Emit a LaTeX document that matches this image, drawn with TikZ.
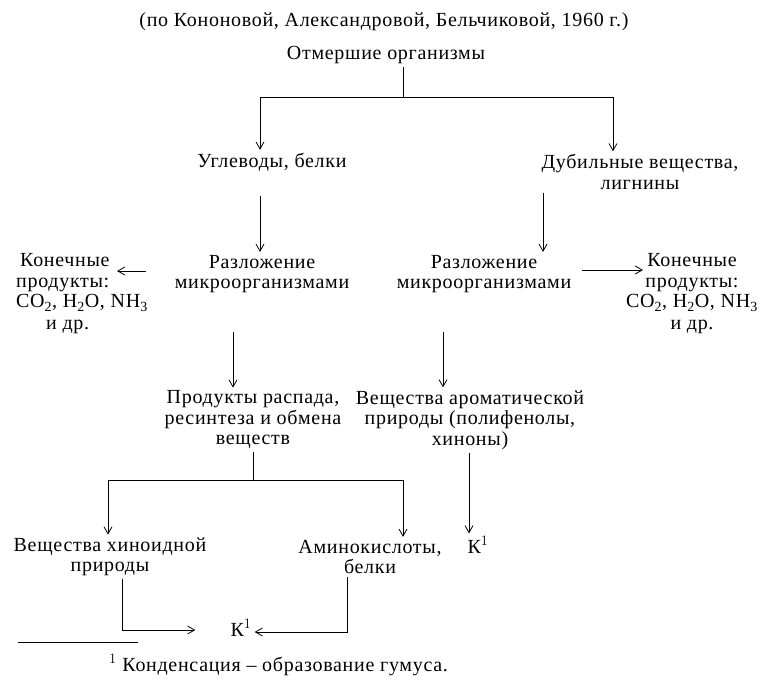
\documentclass[tikz,border=0pt]{standalone}
\usepackage{fontspec}
\setmainfont[LetterSpace=3.5]{Liberation Serif}
\usetikzlibrary{arrows.meta}

\begin{document}
\begin{tikzpicture}[x=1pt, y=-1pt,
		base/.style={align=center, inner sep=3pt, font=\fontsize{20}{20.5}\selectfont},
		link/.style={line width=0.8pt},
		arrow/.style={link, -{Straight Barb[length=7pt, width=8pt]}},
	]
	\useasboundingbox (0,0) rectangle (777,690);

	\node[base] (title) at (384,22) {(по Кононовой, Александровой, Бельчиковой, 1960 г.)};
	\node[base] (dead) at (386,55) {Отмершие организмы};

	\node[base] (carb) at (272,162) {Углеводы, белки};
	\node[base] (tan) at (640,172) {Дубильные вещества,\\лигнины};

	\node[base] (decL) at (262,274) {Разложение\\микроорганизмами};
	\node[base] (decR) at (484,274) {Разложение\\микроорганизмами};
	\node[base, align=left, anchor=west] (endL) at (13,294) {\hspace*{4pt}Конечные\\продукты:\\CO\textsubscript{2}, H\textsubscript{2}O, NH\textsubscript{3}\\[1.5pt]\hspace*{30pt}и др.};
	\node[base] (endR) at (692,294) {Конечные\\продукты:\\CO\textsubscript{2}, H\textsubscript{2}O, NH\textsubscript{3}\\[1.5pt]и др.};

	\node[base] (prod) at (253,420) {Продукты распада,\\ресинтеза и обмена\\веществ};
	\node[base] (arom) at (470,420) {Вещества ароматической\\природы (полифенолы,\\хиноны)};

	\node[base] (quin) at (110,557) {Вещества хиноидной\\природы};
	\node[base] (amino) at (370,557) {Аминокислоты,\\белки};
	\node[base] (kR) at (478,545) {К$^{1}$};
	\node[base] (kB) at (241,628) {К$^{1}$};

	\node[base, anchor=west] (note) at (106,665) {$^{1}$ Конденсация -- образование гумуса.};

	% branch points
	\coordinate (splitA) at (403,97);
	\coordinate (splitL) at (260,97);
	\coordinate (splitR) at (613,97);
	\coordinate (splitB) at (253,480);
	\coordinate (splitBL) at (108,480);
	\coordinate (splitBR) at (403,480);
	\coordinate (tipL) at (117,0);
	\coordinate (tipR) at (643,0);
	\coordinate (bendL) at (122,630);
	\coordinate (bendR) at (347,632);

	\draw[link] (dead.south -| splitA) -- (splitA);
	\draw[link] (splitL) -- (splitR);
	\draw[arrow] (splitL) -- (carb.north -| splitL);
	\draw[arrow] (splitR) -- (tan.north -| splitR);

	\draw[arrow, shorten <=22pt] (carb.south -| splitL) -- (decL.north -| splitL);
	\draw[arrow] (tan.south -| 543,0) -- (decR.north -| 543,0);

	\draw[arrow, shorten <=26pt] ([yshift=3pt]decL.west) -- ([yshift=3pt]decL.west -| tipL);
	\draw[arrow, shorten <=8pt] ([yshift=4pt]decR.east) -- ([yshift=4pt]decR.east -| tipR);

	\draw[arrow, shorten <=36pt] (decL.south -| 233,0) -- (prod.north -| 233,0);
	\draw[arrow, shorten <=36pt] (decR.south -| 443,0) -- (arom.north -| 443,0);

	\draw[link] (prod.south -| splitB) -- (splitB);
	\draw[link] (splitBL) -- (splitBR);
	\draw[arrow] (splitBL) -- (quin.north -| splitBL);
	\draw[arrow] (splitBR) -- (amino.north -| splitBR);
	\draw[arrow] (arom.south -| 469,0) -- (kR.north -| 469,0);

	\draw[arrow, shorten >=32pt] (quin.south -| bendL) -- (bendL) -- (bendL -| kB.west);
	\draw[arrow] (amino.south -| bendR) -- (bendR) -- (bendR -| kB.east);

	% footnote rule
	\draw[link] (18,642) -- (138,642);
\end{tikzpicture}
\end{document}
